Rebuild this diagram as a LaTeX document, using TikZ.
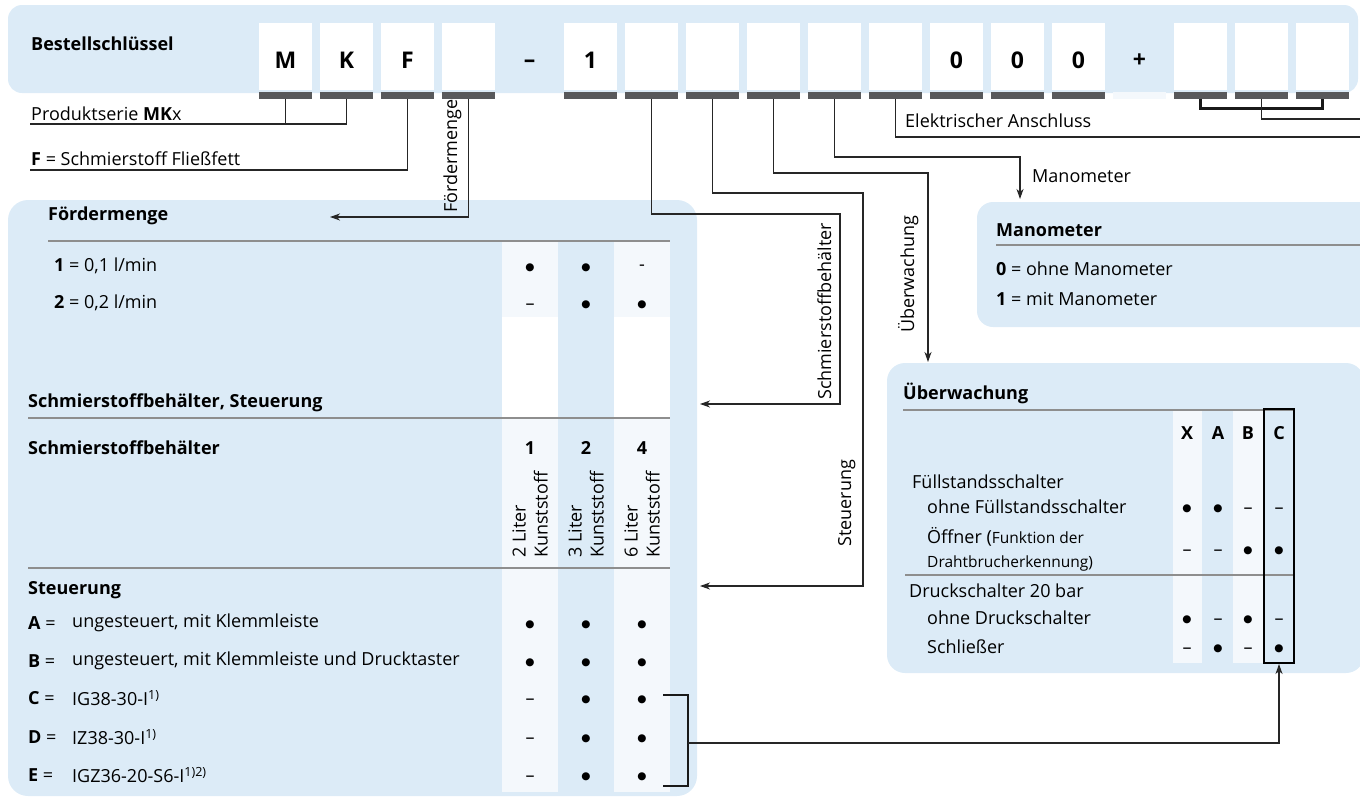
\documentclass[tikz,border=0pt]{standalone}
\usepackage{fontspec}
\setmainfont{Open Sans}
\newfontfamily\symbolschrift{DejaVu Sans}
\usetikzlibrary{arrows.meta,positioning}

\definecolor{skfblau}{HTML}{DCEBF7}
\definecolor{skfhell}{HTML}{F4F8FC}
\definecolor{balkengrau}{HTML}{59595B}
\definecolor{trenngrau}{HTML}{8E8E8E}

\newcommand{\normalschrift}{\fontsize{18}{22}\selectfont}
\newcommand{\kleinschrift}{\fontsize{15.5}{19}\selectfont}
\newcommand{\ja}{{\symbolschrift\fontsize{10.5}{12}\selectfont ●}}
\newcommand{\nein}{\raisebox{-1.5pt}{–}}

\tikzset{
	every node/.style={inner sep=0pt,font=\normalschrift},
	feld/.style={fill=white,minimum width=53pt,minimum height=67pt,text height=24pt,text depth=0pt,font=\fontsize{23}{26}\selectfont\bfseries},
	zeichen/.style={anchor=base,font=\fontsize{23}{26}\selectfont\bfseries},
	balken/.style={fill=balkengrau,minimum width=53pt,minimum height=7pt},
	linie/.style={draw=black!85,line width=1.1pt},
	pfeil/.style={linie,-{Stealth[length=10pt,width=7pt,inset=3pt]}},
	klammer/.style={draw=black!90,line width=2.6pt},
	trenner/.style={draw=trenngrau,line width=1.4pt},
	titel/.style={anchor=west,font=\normalschrift\bfseries},
	eintrag/.style={anchor=west},
	kopf/.style={font=\normalschrift\bfseries},
	wert/.style={anchor=base,yshift=-4.5pt},
	senkrecht/.style={rotate=90,anchor=base west},
	kasten/.style={fill=skfblau,rounded corners=18pt},
}

\begin{document}
\begin{tikzpicture}[x=1pt,y=-1pt]
	\useasboundingbox (0,0) rectangle (1360,798);
	\clip (0,0) rectangle (1360,798);

	% Flaechen
	\fill[kasten,rounded corners=14pt] (8,5) rectangle (1358,93);
	\fill[kasten,rounded corners=20pt] (8,200) rectangle (697,796);
	\fill[kasten,rounded corners=16pt] (977,202) rectangle (1400,327);
	\fill[kasten] (887,363) rectangle (1364,673);

	% Bestellschluessel
	\node[titel] (bestell) at (31,44) {Bestellschlüssel};
	\foreach \i/\z in {0/M,1/K,2/F,3/,5/1,6/,7/,8/,9/,10/,11/0,12/0,13/0,15/,16/,17/}{
		\node[feld] (f\i) at ({285.5+61*\i},56.5) {\z};
		\node[balken] (b\i) at ({285.5+61*\i},95.5) {};
	}
	\node[zeichen] (f4) at (529.5,67) {–};
	\node[zeichen] (f14) at (1139.5,67) {+};
	\node[balken,fill=skfhell] (b14) at (1139.5,95.5) {};

	% Foerdermenge, Behaelter, Steuerung
	\fill[skfhell] (502,241) rectangle (558,792);
	\fill[skfhell] (614,241) rectangle (670,792);
	\fill[white] (502,317) rectangle (558,418);
	\fill[white] (614,317) rectangle (670,418);

	\node[titel] (tfoerder) at (48,216) {Fördermenge};
	\draw[trenner] (48,241) -- (670,241);
	\node[eintrag] (m1) at (54,266) {\textbf{1} = 0,1 l/min};
	\node[eintrag] (m2) at (54,303) {\textbf{2} = 0,2 l/min};
	\foreach \w [count=\s] in {\ja,\ja,-} \node[wert] (wm1\s) at ({474+56*\s},266) {\w};
	\foreach \w [count=\s] in {\nein,\ja,\ja} \node[wert] (wm2\s) at ({474+56*\s},303) {\w};

	\node[titel] (tsb) at (28,403) {Schmierstoffbehälter, Steuerung};
	\draw[trenner] (28,418) -- (670,418);
	\node[titel] (tbeh) at (28,448) {Schmierstoffbehälter};
	\foreach \n/\l [count=\s] in {1/2,2/3,4/6}{
		\node[kopf] (nb\s) at ({474+56*\s},448) {\n};
		\node[rotate=90,anchor=west,align=left] (lb\s) at ({474+56*\s},558) {\l{} Liter\\Kunststoff};
	}
	\draw[trenner] (28,568) -- (670,568);
	\node[titel] (tsteuer) at (28,590) {Steuerung};
	\foreach \k/\t/\y/\wa/\wb/\wc in {
		A/{ungesteuert, mit Klemmleiste}/623/\ja/\ja/\ja,
		B/{ungesteuert, mit Klemmleiste und Drucktaster}/661/\ja/\ja/\ja,
		C/{IG38-30-I\textsuperscript{1)}}/698/\nein/\ja/\ja,
		D/{IZ38-30-I\textsuperscript{1)}}/737/\nein/\ja/\ja,
		E/{IGZ36-20-S6-I\textsuperscript{1)2)}}/775/\nein/\ja/\ja}{
		\node[eintrag] (key\k) at (28,\y) {\textbf{\k} =};
		\node[eintrag] (st\k) at (72,\y) {\t};
		\node[wert] (w\k1) at (530,\y) {\wa};
		\node[wert] (w\k2) at (586,\y) {\wb};
		\node[wert] (w\k3) at (642,\y) {\wc};
	}
	\coordinate (kmitte) at (688,743);
	\draw[klammer] (663,695) -| (688,786) -- (663,786);

	% Manometer
	\node[titel] (tmano) at (996,230) {Manometer};
	\draw[trenner] (996,245) -- (1362,245);
	\node[eintrag] (mano0) at (996,269) {\textbf{0} = ohne Manometer};
	\node[eintrag] (mano1) at (996,299) {\textbf{1} = mit Manometer};

	% Ueberwachung
	\fill[skfhell] (1173,410) rectangle (1202,663);
	\fill[skfhell] (1233,410) rectangle (1264,663);
	\node[titel] (tueber) at (903,393) {Überwachung};
	\draw[trenner] (903,410) -- (1294,410);
	\foreach \h/\x in {X/1187,A/1218,B/1248,C/1279}
		\node[kopf] (h\h) at (\x,433) {\h};
	\node[eintrag] (fuell) at (912,482) {Füllstandsschalter};
	\node[eintrag] (ohnef) at (927,507) {ohne Füllstandsschalter};
	\node[eintrag,align=left] (oeffner) at (927,549) {Öffner ({\kleinschrift Funktion der}\\[2pt]{\kleinschrift Drahtbrucherkennung)}};
	\draw[trenner] (905,575) -- (1294,575);
	\node[eintrag] (druck) at (909,591) {Druckschalter 20 bar};
	\node[eintrag] (ohned) at (927,618) {ohne Druckschalter};
	\node[eintrag] (schliess) at (927,647) {Schließer};
	\foreach \y/\wx/\wa/\wb/\wc in {507/\ja/\ja/\nein/\nein,549/\nein/\nein/\ja/\ja,618/\ja/\nein/\ja/\nein,647/\nein/\ja/\nein/\ja}{
		\node[wert] (ux\y) at (1187,\y) {\wx};
		\node[wert] (ua\y) at (1218,\y) {\wa};
		\node[wert] (ub\y) at (1248,\y) {\wb};
		\node[wert] (uc\y) at (1279,\y) {\wc};
	}
	\draw[black,line width=1.3pt] (1264,409) rectangle (1294,663);

	% Zuordnung der Felder
	\coordinate (pl) at (30,124);
	\coordinate (fl) at (30,170);
	\draw[linie] (b0.south) -- (b0.south |- pl);
	\draw[linie] (b1.south) |- (pl);
	\node[anchor=base west] (produkt) at (31,120) {Produktserie \textbf{MK}x};
	\draw[linie] (b2.south) |- (fl);
	\node[anchor=base west] (fliess) at (31,165) {\textbf{F} = Schmierstoff Fließfett};

	\coordinate (fpfeil) at (330,217);
	\draw[pfeil] (b3.south) |- (fpfeil);
	\node[senkrecht] (lfoerder) at (457,213) {Fördermenge};

	\coordinate (sbk) at (840,214);
	\coordinate (sbpfeil) at (700,404);
	\draw[pfeil] (b6.south) |- (sbk) |- (sbpfeil);
	\node[senkrecht] (lschmier) at (831,400) {Schmierstoffbehälter};

	\coordinate (stk) at (863,193);
	\coordinate (stpfeil) at (700,586);
	\draw[pfeil] (b7.south) |- (stk) |- (stpfeil);
	\node[senkrecht] (lsteuer) at (851,547) {Steuerung};

	\coordinate (uk) at (928,173);
	\coordinate (upfeil) at (928,362);
	\draw[pfeil] (b8.south) |- (uk) -- (upfeil);
	\node[senkrecht] (lueber) at (914,333) {Überwachung};

	\coordinate (mk) at (1020,157);
	\coordinate (mpfeil) at (1020,199);
	\draw[pfeil] (b9.south) |- (mk) -- (mpfeil);
	\node[eintrag] (lmano) at (1032,176) {Manometer};

	\coordinate (rand1) at (1362,137);
	\draw[linie] (b10.south) |- (rand1);
	\node[anchor=base west] (lelek) at (905,127) {Elektrischer Anschluss};

	\draw[klammer] (b15.south) -- ++(0,9) -| (b17.south);
	\coordinate (rand2) at (1362,119);
	\draw[linie] (b16.south) |- (rand2);

	\coordinate (cpfeil) at (1279,664);
	\draw[pfeil] (kmitte) -| (cpfeil);
\end{tikzpicture}
\end{document}
